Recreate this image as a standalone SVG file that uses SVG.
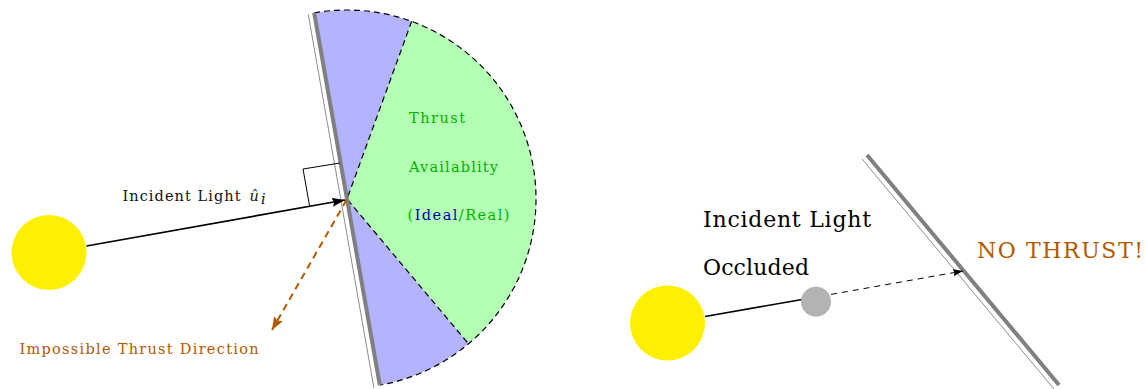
<svg xmlns="http://www.w3.org/2000/svg" width="1147" height="389" viewBox="0 0 1147 389">
  <style>
    .sun { fill: #ffef00; }
    .sail-thick { stroke: #808080; stroke-width: 4; fill: none; }
    .sail-thin { stroke: #808080; stroke-width: 0.9; fill: none; }
    .outline { stroke: #000; stroke-width: 1.2; fill: none; stroke-dasharray: 6 4; }
    .small { font-family: 'DejaVu Serif', 'Liberation Serif', serif; font-size: 14.5px; }
    .large { font-family: 'DejaVu Serif', 'Liberation Serif', serif; font-size: 22px; }
    .green { fill: #00b300; }
    .blue { fill: #0000b3; }
    .orange { fill: #b35900; }
  </style>
  <defs>
    <marker id="head-black" markerUnits="userSpaceOnUse" markerWidth="13" markerHeight="9" refX="13" refY="4.5" orient="auto">
      <path d="M0,0 L13,4.5 L0,9 L2,4.5 Z" fill="#000"/>
    </marker>
    <marker id="head-small" markerUnits="userSpaceOnUse" markerWidth="10" markerHeight="7" refX="10" refY="3.5" orient="auto">
      <path d="M0,0 L10,3.5 L0,7 L1.5,3.5 Z" fill="#000"/>
    </marker>
    <marker id="head-orange" markerUnits="userSpaceOnUse" markerWidth="13" markerHeight="10" refX="13" refY="5" orient="auto">
      <path d="M0,0 L13,5 L0,10 L2,5 Z" fill="#b35900"/>
    </marker>
  </defs>

  <!-- Left scene: sail with reachable thrust cone -->
  <g id="thrust-region">
    <!-- half disc on the lit side of the sail -->
    <path d="M347,199 L314.18,12.87 A189,189 0 0 1 536,199 A189,189 0 0 1 379.82,385.13 Z" fill="#b3b3ff"/>
    <!-- +/-60 degree cone around the sail normal -->
    <path d="M347,199 L411.64,21.40 A189,189 0 0 1 468.49,343.78 Z" fill="#b3ffb3"/>
    <path class="outline" d="M314.18,12.87 A189,189 0 0 1 536,199 A189,189 0 0 1 379.82,385.13"/>
    <path class="outline" d="M411.64,21.40 L347,199 L468.49,343.78"/>
  </g>

  <g id="sail-left">
    <line class="sail-thin" x1="308.3" y1="14.5" x2="373.9" y2="388"/>
    <line class="sail-thick" x1="314.18" y1="12.87" x2="379.82" y2="385.13"/>
  </g>

  <g id="sun-left">
    <circle class="sun" cx="49" cy="252.5" r="37.5"/>
  </g>

  <g id="right-angle">
    <polyline points="340,163 303,169 309.5,205.5" fill="none" stroke="#000" stroke-width="1"/>
  </g>

  <!-- Right scene: occluded light, no thrust -->
  <g id="sun-right">
    <circle class="sun" cx="667.5" cy="323" r="37.5"/>
  </g>

  <g id="sail-right">
    <line class="sail-thin" x1="862" y1="159" x2="1054" y2="389"/>
    <line class="sail-thick" x1="867" y1="155" x2="1059" y2="385"/>
  </g>

  <g id="connectors">
    <line x1="86.5" y1="246" x2="345" y2="200" stroke="#000" stroke-width="1.7" marker-end="url(#head-black)"/>
    <line x1="346.5" y1="200" x2="272" y2="330" stroke="#b35900" stroke-width="2" stroke-dasharray="7 5" marker-end="url(#head-orange)"/>
    <line x1="705" y1="316.5" x2="802" y2="299.5" stroke="#000" stroke-width="1.7"/>
    <line x1="831" y1="294.4" x2="963" y2="271" stroke="#000" stroke-width="1" stroke-dasharray="6 5" marker-end="url(#head-small)"/>
  </g>

  <g id="occluder">
    <circle cx="816" cy="301.7" r="15" fill="#b3b3b3"/>
  </g>

  <!-- Labels -->
  <g id="label-incident">
    <text class="small" x="122.5" y="200.5" textLength="118" lengthAdjust="spacing" fill="#111">Incident Light</text>
    <text class="small" x="249.5" y="200.5" font-style="italic" fill="#111">û</text>
    <text class="small" x="261" y="203.5" font-style="italic" font-size="10" fill="#111">i</text>
  </g>
  <g id="label-impossible">
    <text class="small orange" x="19.5" y="354" textLength="239" lengthAdjust="spacing">Impossible Thrust Direction</text>
  </g>
  <g id="label-availability">
    <text class="small green" x="409" y="122.5" textLength="56" lengthAdjust="spacing">Thrust</text>
    <text class="small green" x="409" y="171.5" textLength="89" lengthAdjust="spacing">Availablity</text>
    <text class="small green" x="407.5" y="220" textLength="102" lengthAdjust="spacing">(<tspan class="blue">Ideal</tspan>/Real)</text>
  </g>
  <g id="label-occluded">
    <text class="large" x="703" y="227" textLength="168" lengthAdjust="spacing" fill="#000">Incident Light</text>
    <text class="large" x="703" y="275" textLength="106" lengthAdjust="spacing" fill="#000">Occluded</text>
  </g>
  <g id="label-no-thrust">
    <text class="large orange" x="977" y="258" textLength="166" lengthAdjust="spacing">NO THRUST!</text>
  </g>
</svg>
